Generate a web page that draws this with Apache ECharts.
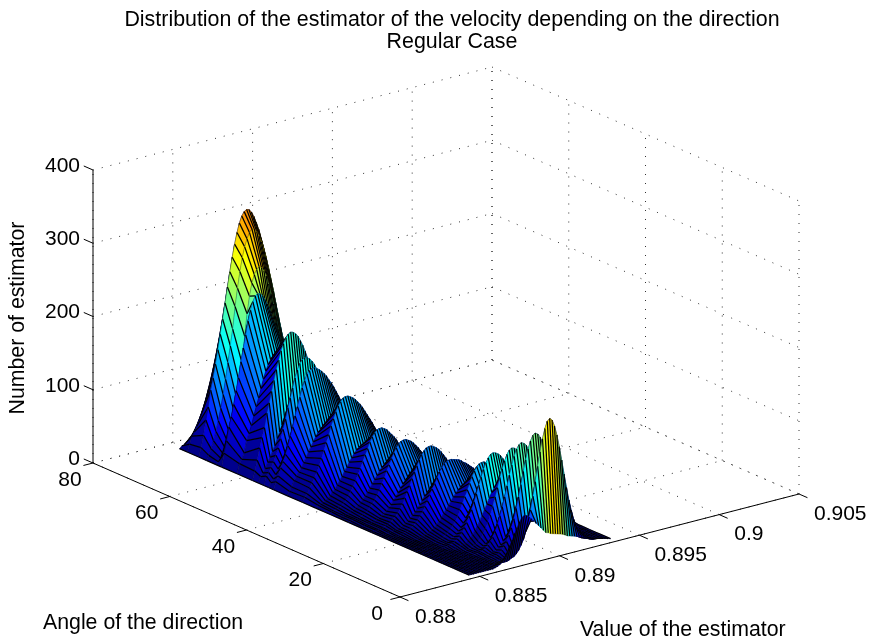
<!DOCTYPE html>
<html><head><meta charset="utf-8">
<style>html,body{margin:0;padding:0;background:#fff}#c{width:870px;height:642px}</style>
<script src="https://cdn.jsdelivr.net/npm/echarts@6/dist/echarts.min.js"></script>
</head><body><div id="c"></div>
<script>
// Rows are listed back to front; trailing zeros of a row are omitted.
const titleLines = ['Distribution of the estimator of the velocity depending on the direction', 'Regular Case'];
const xAxisName = 'Value of the estimator';
const yAxisName = 'Angle of the direction';
const zAxisName = 'Number of estimator';
const xTicks = [0.88, 0.885, 0.89, 0.895, 0.9, 0.905];
const xTickLabels = ['0.88', '0.885', '0.89', '0.895', '0.9', '0.905'];
const yTicks = [0, 20, 40, 60, 80];
const zTicks = [0, 100, 200, 300, 400];
const firstEstimator = 0.8847, estimatorStep = 0.00015, columnCount = 60;
const angles = [77,75,72,70,67.5,66,62,58,56.5,55,53.8,52.5,49,45,41.5,38,35.5,33,30,27,25,23,20,17,15.5,14,12.5,11,9.7,8.5,7,5.5,4.2,3,1.5];
const counts = [
[0,3,4,6,7,10,12,15,18,21,24,26,28,30,30,30,28,26,24,21,18,15,12,10,7,6,4,3,2,1,1],
[0,10,20,25,32,40,48,57,67,76,85,94,100,106,109,110,109,106,100,94,85,76,67,57,48,40,32,25,20,15,11,8,6,4,3,2,1],
[0,12,28,48,65,87,103,121,140,160,180,201,222,242,261,278,293,305,314,319,321,320,316,309,300,290,277,262,246,230,212,195,177,160,143,127,111,97,84,72,61,52,43,36,30,24,20,16,13,10,8,6,4,3,2,2,1],
[0,6,14,24,36,50,66,84,104,126,148,170,200,224,246,264,278,288,296,300,299,295,288,279,268,255,240,224,208,190,173,156,140,123,108,94,81,69,58,49,41,33,27,22,17,14,11,8,6,5,4,3,2,2,1,1,1],
[0,3,7,12,18,26,35,46,60,78,100,128,165,195,218,235,246,252,255,253,248,240,228,214,199,181,163,145,128,110,94,79,66,54,43,34,27,21,16,12,9,7,5,3,2,2,1],
[0,18,34,52,65,81,99,116,137,155,172,190,204,215,222,224,223,220,214,207,198,187,175,163,149,136,122,109,96,84,73,62,53,44,37,30,25,20,16,13,10,8,6,4,3,2],
[0,13,18,26,42,51,61,73,85,96,108,120,130,138,144,148,150,150,147,144,142,137,131,126,120,113,105,99,91,83,75,69,61,55,48,43,38,33,27,23,21,17,14,12,10,8,6,5,4,4,3,3,1],
[0,12,26,42,55,68,87,100,115,129,143,155,167,176,183,187,189,188,185,181,174,167,158,148,137,126,115,103,92,81,71,61,53,45,37,31,26,21,17,13,11,8,6,5,4,3,2],
[0,8,12,17,25,31,38,45,54,62,71,80,88,95,102,106,109,110,110,108,107,104,101,97,93,88,83,78,72,67,61,56,50,45,40,36,31,27,24,20,17,15,13,11,9,7,6,5,4,3,3,2,2,1],
[0,12,16,22,29,37,46,58,70,83,98,110,123,136,146,154,158,160,159,157,153,148,141,134,125,116,107,97,87,78,69,60,52,44,38,32,26,22,18,14,11,9,7,5,4,3,2,2],
[0,6,10,15,22,28,34,41,49,57,65,73,80,87,92,96,99,100,100,99,97,95,92,88,84,80,76,71,66,61,56,51,46,41,37,33,29,25,22,19,16,14,11,10,8,7,5,4,4,3,2,2,1,1],
[0,10,17,27,35,44,55,67,79,93,105,117,129,138,146,150,152,152,150,148,145,141,137,131,126,120,113,106,99,92,85,78,71,65,58,52,47,41,36,32,28,24,21,18,15,13,11,9,7,6,5,4,3,3,2,2,1,1,1,1],
[0,5,10,18,23,28,33,39,45,52,58,64,70,75,79,82,84,85,85,84,83,81,79,76,74,70,67,63,59,56,52,48,44,40,36,33,29,26,23,20,18,15,13,11,10,8,7,6,5,4,3,3,2,2,1,1,1,1,1],
[0,6,10,17,23,29,36,44,53,63,73,83,94,103,112,119,124,128,129,129,127,125,122,118,114,109,103,97,91,85,78,72,65,59,53,47,42,37,32,28,24,21,17,15,12,10,9,7,6,5,4,3,2,2,1],
[0,3,4,5,7,9,12,16,19,24,29,34,40,45,51,56,61,65,68,69,70,70,69,67,66,63,60,57,54,50,46,42,39,35,31,28,24,21,18,16,13,11,9,8,7,5,4,3,3,2,2,1,1],
[0,2,2,4,5,7,10,13,18,23,29,36,44,51,60,68,76,84,90,95,98,99,99,97,95,91,87,83,78,72,66,60,54,48,43,37,32,28,23,20,16,13,11,9,7,6,4,3,3,2,1,1],
[0,1,2,2,3,5,6,8,11,14,17,21,25,30,35,40,45,50,54,57,60,61,62,62,61,59,57,55,52,49,45,41,38,34,30,27,23,20,17,15,12,10,8,7,6,4,3,3,2,2,1,1],
[0,1,2,2,2,3,5,7,9,13,17,21,27,33,41,48,57,64,72,79,85,89,92,93,93,91,89,86,82,78,73,68,62,56,51,45,40,35,30,26,22,18,15,13,10,8,7,5,4,3,2,2,1,1],
[0,0,1,1,2,2,3,5,6,8,10,13,17,20,25,29,34,39,44,48,52,55,58,59,60,60,59,57,55,53,50,47,44,40,36,33,29,26,23,20,17,14,12,10,8,7,5,4,3,3,2,2,1,1],
[0,0,1,1,2,2,4,5,7,10,13,17,22,28,35,43,50,59,67,75,82,88,93,96,97,97,95,93,90,86,81,76,70,65,59,53,47,42,36,32,27,23,19,16,13,11,9,7,5,4,3,3,2,1,1],
[0,0,0,0,1,1,2,2,3,4,6,8,10,13,16,20,24,28,33,38,42,46,50,54,56,57,58,58,57,56,55,53,51,49,46,44,41,38,35,32,29,27,24,21,19,17,14,13,11,9,8,7,6,5,4,3,3,2,2,1],
[0,0,0,0,0,0,1,2,3,4,6,9,12,15,20,25,31,38,45,52,59,66,73,78,83,85,86,86,85,84,83,81,78,76,73,70,67,63,60,56,52,48,45,41,38,34,31,28,25,22,20,17,15,13,12,10,9,7,6,5],
[0,0,0,0,0,0,0,0,1,1,2,3,4,6,8,10,13,17,21,26,30,35,40,45,49,53,56,57,58,58,57,56,55,53,51,49,46,44,41,38,35,32,29,27,24,21,19,17,14,13,11,9,8,7,6,5,4,3,3,2],
[0,0,0,0,0,0,0,0,0,0,0,1,2,3,4,7,9,13,17,22,28,36,44,52,61,69,77,84,89,92,93,93,91,89,86,82,78,73,68,62,56,51,45,40,35,30,26,22,18,15,13,10,8,7,5,4,3,2,2,1],
[0,0,0,0,0,0,0,0,0,0,0,1,2,2,3,5,7,10,13,17,22,28,34,40,47,54,60,65,69,71,72,72,70,68,65,62,58,53,49,44,39,34,30,25,21,18,15,12,10,8,6,5,4,3,2,2,1,1,1],
[0,0,0,0,0,0,0,0,0,0,1,2,2,4,5,8,11,15,21,27,35,43,53,63,74,84,94,102,108,112,113,112,110,107,102,97,90,84,76,69,61,54,46,40,34,28,23,19,15,12,10,8,6,4,3,2,2,1,1,1],
[0,0,0,0,0,0,0,0,0,0,0,0,1,2,3,4,5,8,11,14,19,24,30,37,44,51,58,65,70,74,77,78,78,76,74,71,67,62,57,53,47,42,37,32,27,23,19,16,13,11,8,7,5,4,3,2,2,1,1,1],
[0,0,0,0,0,0,0,0,0,0,0,0,0,0,1,1,2,4,5,8,12,17,23,31,40,51,63,75,88,99,109,117,122,124,123,120,116,109,102,94,85,75,66,57,48,40,33,27,21,17,13,10,7,5,4,3,2,1,1,1],
[0,0,0,0,0,0,0,0,0,0,0,0,0,0,1,1,2,2,3,5,7,9,14,18,23,30,37,44,51,57,63,68,71,72,71,70,67,64,59,54,49,44,38,33,28,23,19,16,12,10,8,6,4,3,2,2,1,1,1],
[0,0,0,0,0,0,0,0,0,0,0,0,0,0,1,2,2,4,6,9,13,18,25,34,45,56,69,83,97,110,121,130,135,137,135,132,125,116,105,94,83,71,60,49,40,32,25,18,14,10,7,5,3,2,2,1],
[0,0,0,0,0,0,0,0,0,0,0,0,0,0,0,1,1,2,3,3,5,8,10,15,19,25,32,40,48,55,62,68,74,77,78,77,75,71,66,60,54,47,41,34,28,23,18,14,11,8,6,4,3,2,1,1],
[0,0,0,0,0,0,0,0,0,0,0,0,0,0,0,0,1,2,3,5,8,13,18,26,35,47,60,75,91,108,123,137,147,154,156,154,149,140,129,116,102,87,73,60,48,37,28,21,15,11,7,5,3,2,1],
[0,0,0,0,0,0,0,0,0,0,0,0,0,0,0,0,0,1,1,2,3,4,7,10,14,19,26,33,41,50,59,67,74,80,84,85,84,80,75,68,60,52,43,35,28,21,16,11,8,6,4,2,1],
[0,0,0,0,0,0,0,0,0,0,0,0,0,0,0,0,0,0,0,1,3,4,7,11,17,24,34,47,62,80,99,119,138,155,168,177,180,177,168,155,138,119,99,80,62,47,34,24,17,11,7,4,3,1],
[0,0,0,0,0,0,0,0,0,0,0,1,2,4,7,11,18,26,33,41,48,55,60,62,61,58,55,51,47,43,39,35,31,30,28,27,26,25,24,23,21,19,18,17,16,15,14,13,12,10,9,8,7,6,5,4,3,2,1,0]
];
// Colour-map position reached per 100 counts on each row's facing slope (the reference is lit, so height alone does not set colour).
const rowShade = [.12,.12,.229,.229,.229,.15,.08,.22,.08,.24,.08,.2,.08,.23,.08,.27,.08,.27,.08,.27,.08,.27,.08,.33,.1,.35,.1,.34,.1,.33,.1,.32,.1,.365,.2];

function project(x, a, z) {
  const u = (x - 0.88) / 0.025, v = a / 80, w = z / 400;
  return [400 + 399 * u - 307 * v, 597 - 103 * u - 134 * v - 293 * w];
}
function jet(t, k) {
  t = Math.max(0, Math.min(1, t));
  const f = c => Math.round(k * 255 * Math.max(0, Math.min(1, 1.5 - Math.abs(4 * t - c))));
  return 'rgb(' + f(3) + ',' + f(2) + ',' + f(1) + ')';
}
const zAt = (r, c) => (c < counts[r].length ? counts[r][c] : 0);
const xAt = c => firstEstimator + estimatorStep * c;

// Cells in painter's order: far rows and far columns first.
const cells = [];
for (let r = 0; r < angles.length - 1; r++)
  for (let c = columnCount - 2; c >= 0; c--) cells.push([r, c]);

function faceColor(r, c) {
  const back = (zAt(r, c) + zAt(r, c + 1)) / 2;
  const dj = ((zAt(r, c + 1) + zAt(r + 1, c + 1)) - (zAt(r, c) + zAt(r + 1, c))) / 2;
  return jet(rowShade[r] * back / 100, Math.max(0.55, 1 + 0.02 * Math.min(0, dj)));
}
function renderCell(params, api) {
  const r = api.value(0), c = api.value(1);
  const P = (i, j) => api.coord(project(xAt(j), angles[i], zAt(i, j)));
  const p00 = P(r, c), p01 = P(r, c + 1), p11 = P(r + 1, c + 1), p10 = P(r + 1, c);
  const col = faceColor(r, c);
  const line = (a, b, stroke, lineWidth) => ({ type: 'line', shape: { x1: a[0], y1: a[1], x2: b[0], y2: b[1] }, style: { stroke, lineWidth } });
  const kids = [
    { type: 'polygon', shape: { points: [p00, p01, p11, p10] }, style: { fill: col, stroke: col, lineWidth: 0.4 } },
    line(p01, p11, '#000', 1.25),
    line(p00, p01, 'rgba(0,0,0,0.35)', 0.6),
    line(p10, p11, 'rgba(0,0,0,0.35)', 0.6)
  ];
  if (c === 0) kids.push(line(p00, p10, '#000', 1.25));
  return { type: 'group', children: kids };
}

// Box grid and axes.
const xMin = 0.88, xMax = 0.905, aMin = 0, aMax = 80, zMax = 400;
const dotted = [], solid = [];
xTicks.forEach(x => {
  dotted.push([[x, aMin, 0], [x, aMax, 0]], [[x, aMax, 0], [x, aMax, zMax]]);
  solid.push([[x, aMin, 0], [x, aMin - 2.2, 0]]);
});
yTicks.forEach(a => {
  dotted.push([[xMin, a, 0], [xMax, a, 0]], [[xMax, a, 0], [xMax, a, zMax]]);
  solid.push([[xMin, a, 0], [xMin - 0.0006, a, 0]]);
});
zTicks.forEach(z => {
  dotted.push([[xMin, aMax, z], [xMax, aMax, z]], [[xMax, aMax, z], [xMax, aMin, z]]);
  solid.push([[xMin, aMax, z], [xMin, aMax + 2.4, z]]);
});
solid.push([[xMin, aMin, 0], [xMax, aMin, 0]], [[xMin, aMin, 0], [xMin, aMax, 0]], [[xMin, aMax, 0], [xMin, aMax, zMax]]);

function segSeries(name, list, style) {
  return { name, type: 'custom', coordinateSystem: 'cartesian2d', silent: true, animation: false, clip: false,
    data: list.map((s, i) => [i, 0]),
    renderItem(params, api) {
      const s = list[api.value(0)];
      const a = api.coord(project(...s[0])), b = api.coord(project(...s[1]));
      return { type: 'line', shape: { x1: a[0], y1: a[1], x2: b[0], y2: b[1] }, style };
    } };
}
const font = '21px "Liberation Sans", Arial, sans-serif';
function textSeries(name, list) {
  return { name, type: 'custom', coordinateSystem: 'cartesian2d', silent: true, animation: false, clip: false,
    data: list.map((s, i) => [i, 0]),
    renderItem(params, api) {
      const t = list[api.value(0)];
      const p = api.coord(project(...t.at));
      return { type: 'text', x: p[0] + t.dx, y: p[1] + t.dy, style: { text: t.text, font, fill: '#000', align: t.align, verticalAlign: 'middle' } };
    } };
}
const labels = [];
xTicks.forEach((x, i) => labels.push({ at: [x, aMin, 0], dx: 15, dy: 20, align: 'left', text: xTickLabels[i] }));
yTicks.forEach(a => labels.push({ at: [xMin, a, 0], dx: -23, dy: 17, align: 'center', text: String(a) }));
zTicks.forEach(z => labels.push({ at: [xMin, aMax, z], dx: -13, dy: -4, align: 'right', text: String(z) }));

const axisTitle = (text, left, top, rotation) => ({ type: 'text', x: left, y: top, rotation: rotation || 0,
  style: { text, font: '21.3px "Liberation Sans", Arial, sans-serif', fill: '#000', align: rotation ? 'center' : 'left', verticalAlign: 'middle' } });

const chart = echarts.init(document.getElementById('c'), null, { renderer: 'canvas' });
const titleStyle = { fontFamily: 'Liberation Sans', fontSize: 21.4, fontWeight: 'normal', color: '#000' };
chart.setOption({
  animation: false,
  backgroundColor: '#fff',
  grid: { left: 0, right: 0, top: 0, bottom: 0 },
  xAxis: { type: 'value', min: 0, max: 870, show: false },
  yAxis: { type: 'value', min: 0, max: 642, inverse: true, show: false },
  title: [
    { text: titleLines[0], left: 447, top: 5, textAlign: 'center', textStyle: titleStyle },
    { text: titleLines[1], left: 447, top: 27, textAlign: 'center', textStyle: titleStyle }
  ],
  graphic: [
    axisTitle(yAxisName, 43, 623),
    axisTitle(xAxisName, 580, 630),
    axisTitle(zAxisName, 18, 318, Math.PI / 2)
  ],
  series: [
    segSeries('grid', dotted, { stroke: '#333', lineWidth: 1, lineDash: [1, 8] }),
    segSeries('axes', solid, { stroke: '#000', lineWidth: 1 }),
    textSeries('tick labels', labels),
    { name: 'surface', type: 'custom', coordinateSystem: 'cartesian2d', silent: true, animation: false, clip: false,
      progressive: 0, data: cells, renderItem: renderCell }
  ]
});
</script></body></html>
